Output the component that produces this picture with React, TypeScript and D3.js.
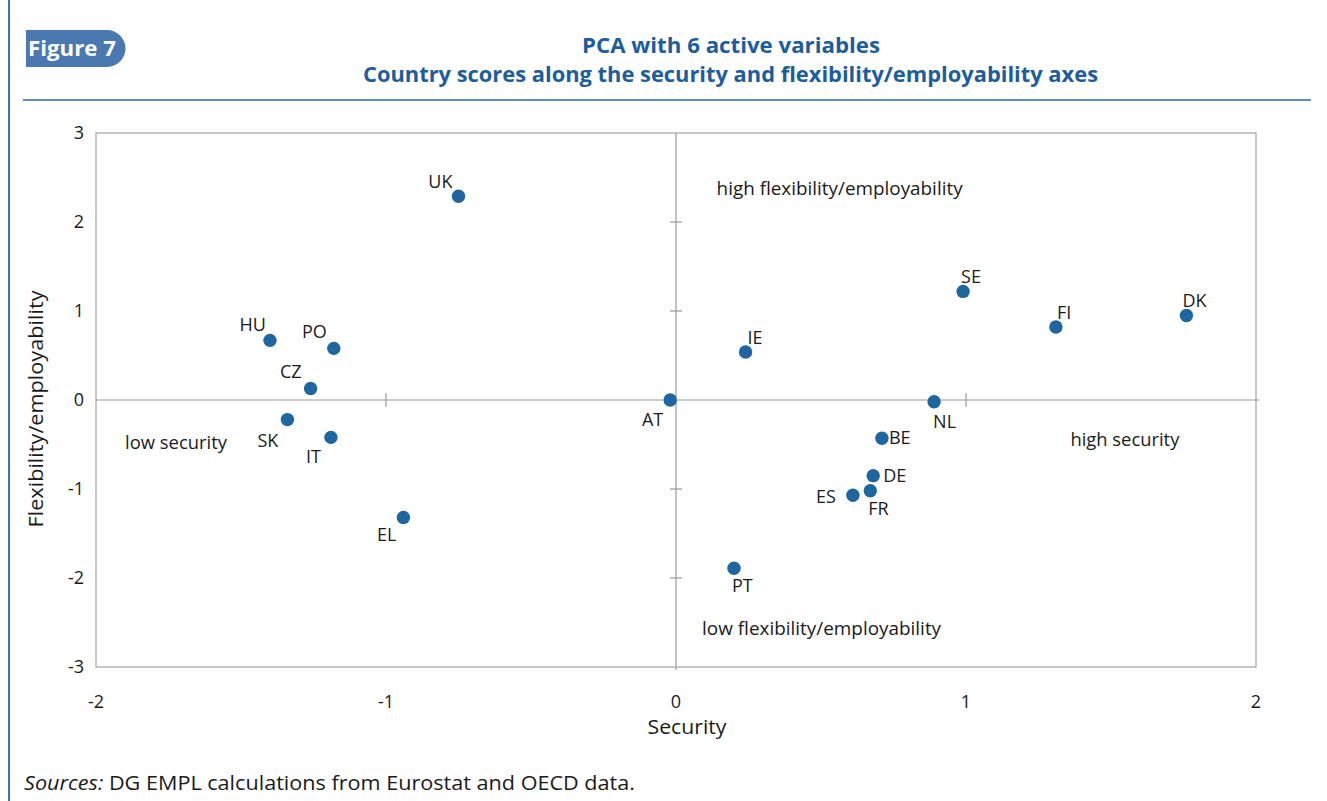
import React from "react";
import * as d3 from "d3";

const countries = ["UK", "HU", "PO", "CZ", "SK", "IT", "EL", "AT", "IE", "SE", "FI", "DK", "NL", "BE", "DE", "FR", "ES", "PT"];
const security = [-0.75, -1.40, -1.18, -1.26, -1.34, -1.19, -0.94, -0.02, 0.24, 0.99, 1.31, 1.76, 0.89, 0.71, 0.68, 0.67, 0.61, 0.20];
const flexibility = [2.29, 0.67, 0.58, 0.13, -0.22, -0.42, -1.32, 0.0, 0.54, 1.22, 0.82, 0.95, -0.02, -0.43, -0.85, -1.02, -1.07, -1.89];

const xTicks = [-2, -1, 0, 1, 2];
const yTicks = [3, 2, 1, 0, -1, -2, -3];

const quadrantLabels = [
  { text: "high flexibility/employability", x: 0.14, y: 2.3, len: 246 },
  { text: "low flexibility/employability", x: 0.09, y: -2.64, len: 239 },
  { text: "low security", x: -1.9, y: -0.555, len: 102 },
  { text: "high security", x: 1.36, y: -0.515, len: 109 },
];

// label placement: [text-anchor, dx, dy] in px relative to point
const labelPlacement: Record<string, [string, number, number]> = {
  UK: ["end", -6, -8],
  HU: ["end", -4, -9],
  PO: ["end", -7, -10],
  CZ: ["end", -9, -10],
  SK: ["end", -9, 27],
  IT: ["end", -10, 26],
  EL: ["end", -7, 24],
  AT: ["end", -7, 26],
  IE: ["start", 2, -8],
  SE: ["start", -2, -8],
  FI: ["start", 1, -8],
  DK: ["start", -4, -8],
  NL: ["start", -1, 26],
  BE: ["start", 7, 6],
  DE: ["start", 10, 6],
  FR: ["start", -2, 24],
  ES: ["end", -17, 8],
  PT: ["start", -2, 24],
};

const FONT = "'Open Sans', 'Noto Sans', sans-serif";
const BLUE = "#1c5d9e";
const INK = "#1a1a1a";

export default function App() {
  const W = 1327;
  const H = 801;
  const x = d3.scaleLinear().domain([-2, 2]).range([96, 1256]);
  const y = d3.scaleLinear().domain([-3, 3]).range([667, 133]);

  const pts = countries.map((c, i) => ({ c, sx: security[i], fy: flexibility[i] }));
  const frameColor = "#8f8f8f";
  const axisColor = "#9a9a9a";

  return (
    <svg width={W} height={H} style={{ position: "absolute", left: 0, top: 0, background: "#fff" }} fontFamily={FONT}>
      <rect x={0} y={0} width={W} height={H} fill="#fff" />
      {/* left border */}
      <line x1={9} y1={0} x2={9} y2={H} stroke="#3a72b5" strokeWidth={2} />
      {/* header rule */}
      <line x1={23} y1={100} x2={1311} y2={100} stroke="#2a67a8" strokeWidth={1.5} />
      {/* Figure badge */}
      <path d="M26,30 H107 A18.5,18.5 0 0 1 107,67 H26 Z" fill="#4a78b0" />
      <text x={28} y={56} fill="#fff" fontWeight={700} fontSize={21} textLength={88} lengthAdjust="spacingAndGlyphs">Figure 7</text>
      {/* title */}
      <text x={731} y={53} textAnchor="middle" fill={BLUE} fontWeight={700} fontSize={21} textLength={298} lengthAdjust="spacingAndGlyphs">PCA with 6 active variables</text>
      <text x={730.5} y={82} textAnchor="middle" fill={BLUE} fontWeight={700} fontSize={21} textLength={735} lengthAdjust="spacingAndGlyphs">Country scores along the security and flexibility/employability axes</text>

      {/* frame */}
      <rect x={x(-2)} y={y(3)} width={x(2) - x(-2)} height={y(-3) - y(3)} fill="none" stroke={frameColor} strokeWidth={1} />
      {/* zero axes */}
      <line x1={x(-2)} x2={x(2) + 3} y1={y(0)} y2={y(0)} stroke={axisColor} strokeWidth={1.2} />
      <line x1={x(0)} x2={x(0)} y1={y(3)} y2={y(-3) + 3} stroke={axisColor} strokeWidth={1.2} />
      {/* ticks on zero axes */}
      {xTicks.filter((t) => t !== 0 && Math.abs(t) !== 2).map((t) => (
        <line key={"xt" + t} x1={x(t)} x2={x(t)} y1={y(0) - 7} y2={y(0) + 7} stroke={axisColor} strokeWidth={1.2} />
      ))}
      {yTicks.filter((t) => t !== 0 && Math.abs(t) !== 3).map((t) => (
        <line key={"yt" + t} x1={x(0) - 6} x2={x(0) + 6} y1={y(t)} y2={y(t)} stroke={axisColor} strokeWidth={1.2} />
      ))}

      {/* tick labels */}
      {xTicks.map((t) => (
        <text key={"xl" + t} x={x(t)} y={708} textAnchor="middle" fontSize={18} fill={INK}>{t}</text>
      ))}
      {yTicks.map((t) => (
        <text key={"yl" + t} x={84} y={y(t) + 6} textAnchor="end" fontSize={18} fill={INK}>{t}</text>
      ))}

      {/* axis titles */}
      <text x={687} y={734} textAnchor="middle" fontSize={20} fill={INK} textLength={79} lengthAdjust="spacingAndGlyphs">Security</text>
      <text transform={`translate(43,409) rotate(-90)`} textAnchor="middle" fontSize={20} fill={INK} textLength={237} lengthAdjust="spacingAndGlyphs">Flexibility/employability</text>

      {/* quadrant labels */}
      {quadrantLabels.map((q) => (
        <text key={q.text} x={x(q.x)} y={y(q.y)} fontSize={18} fill={INK} textLength={q.len} lengthAdjust="spacingAndGlyphs">{q.text}</text>
      ))}

      {/* points */}
      {pts.map((p) => (
        <circle key={p.c} cx={x(p.sx)} cy={y(p.fy)} r={6.7} fill="#1f65a0" />
      ))}
      {pts.map((p) => {
        const [anchor, dx, dy] = labelPlacement[p.c];
        return (
          <text key={"l" + p.c} x={x(p.sx) + dx} y={y(p.fy) + dy} textAnchor={anchor} fontSize={18} fill={INK}>{p.c}</text>
        );
      })}

      {/* source */}
      <text x={24} y={790} fontSize={20} fill={INK} textLength={611} lengthAdjust="spacingAndGlyphs">
        <tspan fontStyle="italic">Sources:</tspan>
        <tspan> DG EMPL calculations from Eurostat and OECD data.</tspan>
      </text>
    </svg>
  );
}
